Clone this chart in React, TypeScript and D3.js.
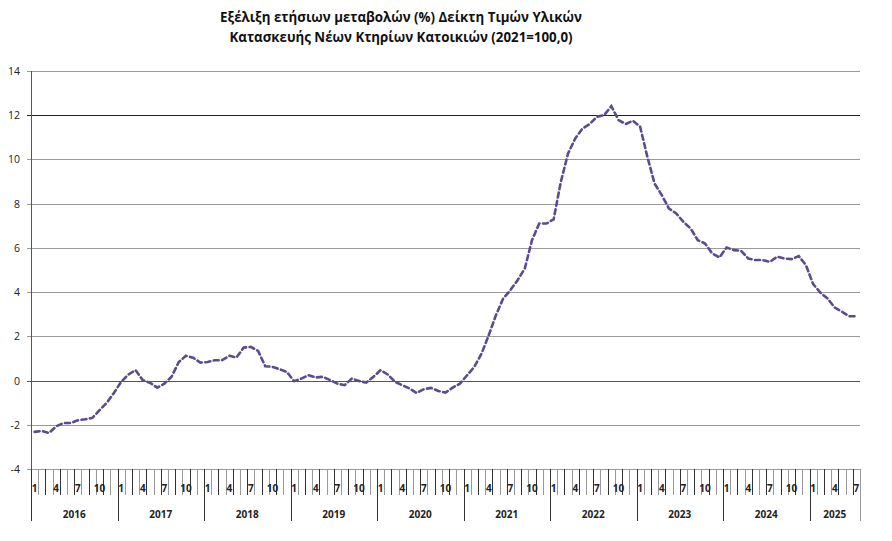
import { useEffect, useRef } from 'react';
import * as d3 from 'd3';

// year-over-year change (%) per month, Jan 2016 .. Jul 2025
const years = [2016, 2017, 2018, 2019, 2020, 2021, 2022, 2023, 2024, 2025];
const monthLabels = ['1', '4', '7', '10'];

const values2016 = [-2.32, -2.28, -2.37, -2.07, -1.92, -1.92, -1.8, -1.75, -1.69, -1.34, -1.01, -0.56];
const values2017 = [-0.06, 0.27, 0.47, 0.02, -0.1, -0.32, -0.14, 0.17, 0.84, 1.12, 1.03, 0.81];
const values2018 = [0.84, 0.92, 0.92, 1.12, 1.04, 1.49, 1.52, 1.34, 0.65, 0.62, 0.51, 0.39];
const values2019 = [-0.03, 0.09, 0.24, 0.14, 0.17, 0.02, -0.14, -0.21, 0.09, -0.02, -0.09, 0.17];
const values2020 = [0.47, 0.27, -0.06, -0.21, -0.36, -0.56, -0.39, -0.33, -0.47, -0.54, -0.32, -0.14];
const values2021 = [0.24, 0.62, 1.22, 2.05, 2.96, 3.71, 4.09, 4.54, 5.07, 6.35, 7.1, 7.1];
const values2022 = [7.29, 8.99, 10.27, 10.95, 11.4, 11.6, 11.93, 12.0, 12.41, 11.78, 11.6, 11.75];
const values2023 = [11.48, 10.12, 8.91, 8.39, 7.78, 7.56, 7.18, 6.88, 6.35, 6.2, 5.75, 5.57];
const values2024 = [6.02, 5.9, 5.87, 5.52, 5.45, 5.45, 5.37, 5.6, 5.52, 5.49, 5.63, 5.22];
const values2025 = [4.36, 3.98, 3.71, 3.3, 3.11, 2.91, 2.91];

const yTicks = [-4, -2, 0, 2, 4, 6, 8, 10, 12, 14];

const titleLines = [
  'Εξέλιξη ετήσιων μεταβολών (%) Δείκτη Τιμών Υλικών',
  'Κατασκευής Νέων Κτηρίων Κατοικιών (2021=100,0)',
];

export default function App() {
  const ref = useRef<SVGSVGElement>(null);

  useEffect(() => {
    if (!ref.current) return;
    const svg = d3.select(ref.current);
    svg.selectAll('*').remove();

    const values = [
      ...values2016, ...values2017, ...values2018, ...values2019, ...values2020,
      ...values2021, ...values2022, ...values2023, ...values2024, ...values2025,
    ];
    const points = values.map((v, i) => ({ i, v }));
    const n = values.length;

    const left = 31, right = 860, top = 71, bottom = 469;
    const font = "'Open Sans', 'Liberation Sans', sans-serif";

    const x = d3.scaleLinear().domain([0, n]).range([left, right]);
    const y = d3.scaleLinear().domain([-4, 14]).range([bottom, top]);

    // title
    svg.append('g')
      .selectAll('text')
      .data(titleLines)
      .join('text')
      .attr('x', 401)
      .attr('y', (_, k) => 22 + k * 20)
      .attr('text-anchor', 'middle')
      .style('font-family', font)
      .style('font-size', '13.3px')
      .style('font-weight', 'bold')
      .style('fill', '#111')
      .text(d => d);

    // gridlines
    svg.append('g')
      .selectAll('line')
      .data(yTicks)
      .join('line')
      .attr('x1', left - 4)
      .attr('x2', right)
      .attr('y1', d => Math.round(y(d)) + 0.5)
      .attr('y2', d => Math.round(y(d)) + 0.5)
      .attr('stroke', d => (d === 12 ? '#222' : d === 0 ? '#555' : '#9a9a9a'))
      .attr('stroke-width', 1);

    // y axis line
    svg.append('line')
      .attr('x1', left + 0.5).attr('x2', left + 0.5)
      .attr('y1', top).attr('y2', bottom)
      .attr('stroke', '#555');

    svg.append('g')
      .selectAll('text')
      .data(yTicks)
      .join('text')
      .attr('x', 20)
      .attr('y', d => y(d) + 4)
      .attr('text-anchor', 'end')
      .style('font-family', font)
      .style('font-size', '10.5px')
      .style('fill', '#222')
      .text(d => d);

    // month ticks
    const boundaries = d3.range(0, n + 1);
    svg.append('g')
      .selectAll('line')
      .data(boundaries)
      .join('line')
      .attr('x1', d => Math.round(x(d)) + 0.5)
      .attr('x2', d => Math.round(x(d)) + 0.5)
      .attr('y1', bottom)
      .attr('y2', d => (d % 12 === 0 || d === n ? 521 : 495))
      .attr('stroke', d => (d % 2 === 0 ? '#333' : '#999'))
      .attr('stroke-width', 1);

    // month labels
    const monthIdx = d3.range(0, n).filter(i => monthLabels.includes(String((i % 12) + 1)));
    svg.append('g')
      .selectAll('text')
      .data(monthIdx)
      .join('text')
      .attr('x', i => x(i + 0.5))
      .attr('y', 492)
      .attr('text-anchor', 'middle')
      .style('font-family', font)
      .style('font-size', '10px')
      .style('font-weight', 'bold')
      .style('fill', '#222')
      .text(i => String((i % 12) + 1));

    // year labels
    svg.append('g')
      .selectAll('text')
      .data(years)
      .join('text')
      .attr('x', (_, k) => {
        const start = k * 12;
        const end = Math.min(start + 12, n);
        return x((start + end) / 2);
      })
      .attr('y', 518)
      .attr('text-anchor', 'middle')
      .style('font-family', font)
      .style('font-size', '10px')
      .style('font-weight', 'bold')
      .style('fill', '#222')
      .text(d => d);

    // series
    const line = d3.line<{ i: number; v: number }>()
      .x(d => x(d.i + 0.5))
      .y(d => y(d.v));

    svg.append('path')
      .datum(points)
      .attr('d', line)
      .attr('fill', 'none')
      .attr('stroke', '#5c4b8e')
      .attr('stroke-width', 2.6)
      .attr('stroke-dasharray', '5,3.5')
      .attr('stroke-linecap', 'round');
  }, []);

  return (
    <svg
      ref={ref}
      width={892}
      height={541}
      style={{ position: 'absolute', left: 0, top: 0, background: '#fff' }}
    />
  );
}
